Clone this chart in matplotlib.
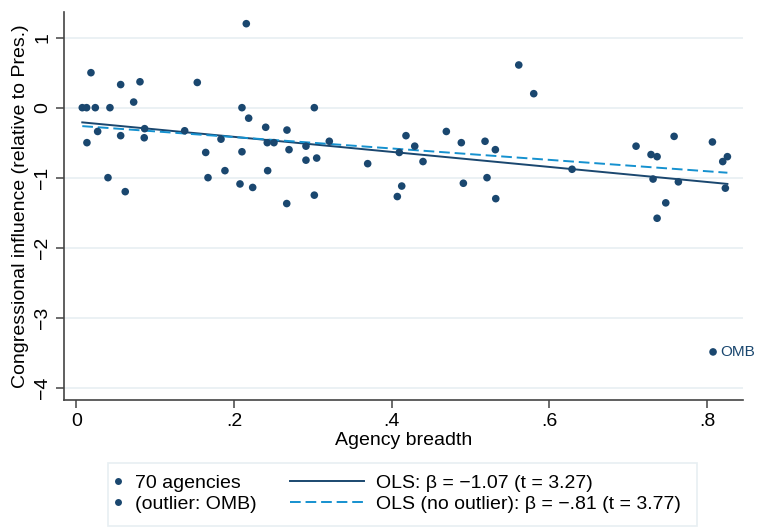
import numpy as np
import matplotlib
matplotlib.use("Agg")
import matplotlib.pyplot as plt
from matplotlib.lines import Line2D
from matplotlib.patches import Rectangle

plt.rcParams['font.family'] = ['Liberation Sans', 'DejaVu Sans']

# Agency breadth (x) and congressional influence (y) for the 69 non-outlier agencies
breadth = [0.0074, 0.0129, 0.0239, 0.0184, 0.0133, 0.0269, 0.040, 0.0425, 0.0561, 0.0561,
           0.0619, 0.0726, 0.0806, 0.0865, 0.0860, 0.1373, 0.1533, 0.164, 0.1669, 0.1834,
           0.1884, 0.2155, 0.210, 0.2185, 0.210, 0.2075, 0.2236, 0.2401, 0.2421, 0.2506,
           0.2426, 0.2671, 0.2697, 0.2668, 0.2912, 0.2912, 0.3018, 0.3048, 0.3018, 0.3208,
           0.3695, 0.4096, 0.4181, 0.4292, 0.4397, 0.4127, 0.4071, 0.4693, 0.4883, 0.4909,
           0.5184, 0.5315, 0.5209, 0.532, 0.5612, 0.5802, 0.6288, 0.710, 0.729, 0.7367,
           0.7583, 0.7316, 0.7637, 0.7477, 0.7367, 0.8069, 0.820, 0.8259, 0.8233]
influence = [0.0, 0.0, 0.0, 0.50, -0.50, -0.34, -1.0, 0.0, 0.33, -0.40,
             -1.2, 0.08, 0.37, -0.30, -0.43, -0.33, 0.36, -0.64, -1.0, -0.45,
             -0.90, 1.2, 0.0, -0.15, -0.63, -1.09, -1.14, -0.28, -0.50, -0.50,
             -0.90, -0.32, -0.60, -1.37, -0.55, -0.75, 0.0, -0.72, -1.25, -0.48,
             -0.80, -0.64, -0.40, -0.55, -0.77, -1.12, -1.27, -0.34, -0.50, -1.08,
             -0.48, -0.60, -1.0, -1.30, 0.61, 0.20, -0.88, -0.55, -0.67, -0.70,
             -0.41, -1.02, -1.06, -1.36, -1.58, -0.49, -0.77, -0.70, -1.15]

# Outlier
omb_breadth = [0.8077]
omb_influence = [-3.49]
omb_label = "OMB"

legend_labels = ["70 agencies", "(outlier: OMB)",
                 "OLS: \u03b2 = \u22121.07 (t = 3.27)",
                 "OLS (no outlier): \u03b2 = \u2212.81 (t = 3.77)"]

xticks = [0, 0.2, 0.4, 0.6, 0.8]
xticklabels = ["0", ".2", ".4", ".6", ".8"]
yticks = [1, 0, -1, -2, -3, -4]
yticklabels = ["1", "0", "\u22121", "\u22122", "\u22123", "\u22124"]

navy = "#1a476f"
ebblue = "#1591cf"
grid_c = "#e8eff2"

W, H = 757, 527
fig = plt.figure(figsize=(W / 100, H / 100), dpi=100)
ax = fig.add_axes([64 / W, 1 - 400 / H, (743 - 64) / W, (400 - 12) / H])

x_all = np.array(breadth + omb_breadth)
y_all = np.array(influence + omb_influence)
x_no = np.array(breadth)
y_no = np.array(influence)

b_all = np.polyfit(x_all, y_all, 1)
b_no = np.polyfit(x_no, y_no, 1)
xr = np.array([x_all.min(), x_all.max()])

ax.scatter(breadth, influence, s=30, color=navy, edgecolors='none', zorder=3)
ax.scatter(omb_breadth, omb_influence, s=30, color=navy, edgecolors='none', zorder=3)
ax.annotate(omb_label, (omb_breadth[0], omb_influence[0]), xytext=(5, 0),
            textcoords='offset points', va='center', ha='left', fontsize=11, color=navy)
l1, = ax.plot(xr, np.polyval(b_all, xr), color=navy, lw=1.4, zorder=2)
l2, = ax.plot(xr, np.polyval(b_no, xr), color=ebblue, lw=1.4, ls=(0, (5.5, 2.5)), zorder=2)

ax.set_xlim(-0.0158, 0.8457)
ax.set_ylim(-4.177, 1.367)
ax.set_xticks(xticks)
ax.set_xticklabels(xticklabels)
ax.set_yticks(yticks)
ax.set_yticklabels(yticklabels, rotation=90, va='center')
ax.yaxis.grid(True, color=grid_c, lw=1.2)
ax.set_axisbelow(True)
for s in ['top', 'right']:
    ax.spines[s].set_visible(False)
for s in ['left', 'bottom']:
    ax.spines[s].set_color('#444444')
    ax.spines[s].set_linewidth(1.2)
ax.tick_params(axis='both', length=6, width=1.1, color='#444444', labelsize=14, pad=3)
ax.set_xlabel("Agency breadth", fontsize=14, labelpad=2)
ax.set_ylabel("Congressional influence (relative to Pres.)", fontsize=14, labelpad=4)

# legend frame
fig.patches.append(Rectangle((108 / W, 1 - 526 / H), (697 - 108) / W, (526 - 463) / H,
                             transform=fig.transFigure, facecolor='white',
                             edgecolor=grid_c, lw=1.2))
h1 = Line2D([], [], ls='none', marker='o', ms=5, color=navy, mec='none')
h2 = Line2D([], [], ls='none', marker='o', ms=5, color=navy, mec='none')
leg1 = fig.legend([h1, h2], legend_labels[:2], loc='upper left',
                  bbox_to_anchor=(112 / W, 1 - 474 / H), frameon=False, fontsize=14,
                  handlelength=0.6, handletextpad=0.6, labelspacing=0.2,
                  borderpad=0, borderaxespad=0)
leg2 = fig.legend([l1, l2], legend_labels[2:], loc='upper left',
                  bbox_to_anchor=(290 / W, 1 - 474 / H), frameon=False, fontsize=14,
                  handlelength=3.8, handletextpad=0.6, labelspacing=0.2,
                  borderpad=0, borderaxespad=0)

fig.savefig("out.png", dpi=100)
